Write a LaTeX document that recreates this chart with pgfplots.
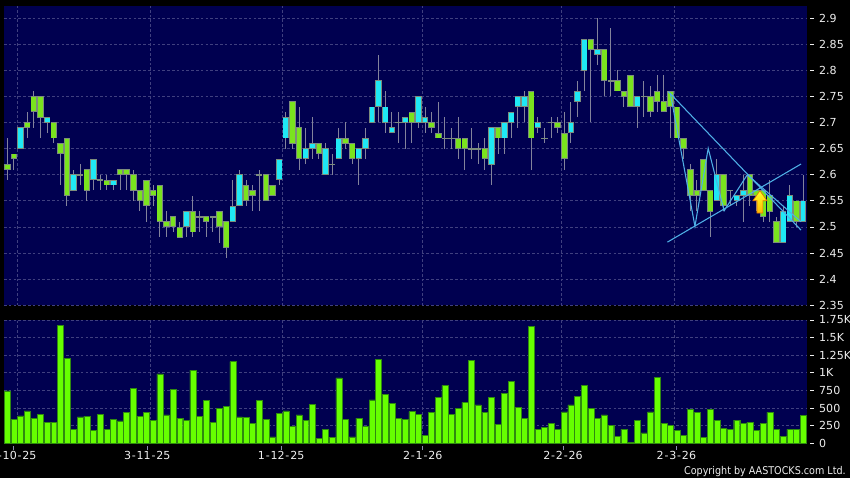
\documentclass[border=0pt]{standalone}
\usepackage{fontspec}
\setmainfont{DejaVu Sans}
\newfontfamily\condfont{DejaVu Sans Condensed}
\usepackage{pgfplots}
\usepackage{pgfplotstable}
\pgfplotsset{compat=1.18}
% 1 px of the reference = 0.75pt here, so the page is 637.5pt x 358.5pt
\definecolor{navy}{HTML}{000050}
\definecolor{gridc}{HTML}{40407F}
\definecolor{wickc}{HTML}{83839B}
\definecolor{edgec}{HTML}{7C8C7C}
\definecolor{upc}{HTML}{1FE8F5}
\definecolor{downc}{HTML}{7AE31E}
\definecolor{volc}{HTML}{66FF00}
\definecolor{voledge}{HTML}{2F8A10}
\definecolor{linec}{HTML}{4FB0E6}
\definecolor{labelc}{HTML}{EEEEEE}
\newcommand{\hk}{\kern.6pt-\kern.6pt}

% i, body bottom, body top, low, high
\pgfplotstableread{
i bot top lo hi
0 2.61 2.62 2.59 2.67
1 2.63 2.64 2.61 2.64
3 2.69 2.70 2.67 2.72
4 2.72 2.75 2.69 2.76
5 2.71 2.75 2.67 2.75
7 2.67 2.70 2.66 2.70
8 2.64 2.66 2.58 2.66
9 2.56 2.67 2.54 2.67
12 2.57 2.61 2.55 2.61
15 2.58 2.59 2.57 2.60
17 2.60 2.61 2.57 2.61
18 2.60 2.61 2.57 2.61
19 2.57 2.60 2.55 2.61
20 2.55 2.57 2.53 2.57
21 2.54 2.59 2.51 2.59
22 2.56 2.57 2.54 2.58
23 2.51 2.58 2.48 2.58
24 2.50 2.51 2.48 2.53
25 2.50 2.52 2.49 2.52
26 2.48 2.50 2.48 2.51
28 2.49 2.53 2.48 2.56
30 2.51 2.52 2.48 2.52
32 2.50 2.53 2.47 2.53
33 2.46 2.51 2.44 2.51
36 2.55 2.58 2.54 2.59
37 2.56 2.57 2.53 2.58
39 2.55 2.60 2.55 2.60
40 2.56 2.58 2.56 2.58
43 2.66 2.74 2.65 2.74
44 2.63 2.69 2.61 2.73
47 2.64 2.66 2.63 2.66
51 2.66 2.67 2.65 2.70
52 2.63 2.66 2.62 2.66
61 2.70 2.72 2.66 2.72
64 2.69 2.70 2.68 2.72
65 2.67 2.68 2.67 2.74
68 2.65 2.67 2.63 2.71
69 2.65 2.67 2.61 2.67
72 2.63 2.65 2.61 2.67
74 2.67 2.69 2.64 2.69
79 2.67 2.76 2.61 2.76
83 2.69 2.70 2.68 2.71
84 2.63 2.68 2.61 2.72
88 2.84 2.86 2.70 2.86
90 2.78 2.84 2.75 2.84
92 2.76 2.78 2.76 2.80
93 2.75 2.76 2.73 2.76
94 2.73 2.79 2.73 2.79
97 2.72 2.75 2.71 2.77
98 2.74 2.76 2.72 2.79
99 2.72 2.74 2.72 2.79
100 2.73 2.76 2.67 2.76
101 2.67 2.73 2.67 2.73
102 2.65 2.67 2.63 2.67
103 2.56 2.61 2.53 2.62
104 2.56 2.57 2.53 2.59
105 2.57 2.63 2.57 2.63
106 2.53 2.57 2.48 2.57
108 2.54 2.60 2.53 2.60
112 2.56 2.60 2.54 2.60
113 2.56 2.57 2.53 2.57
114 2.52 2.57 2.51 2.57
115 2.53 2.56 2.51 2.59
116 2.47 2.51 2.47 2.52
119 2.51 2.55 2.50 2.55
}\downbars

\pgfplotstableread{
i bot top lo hi
2 2.65 2.69 2.65 2.69
6 2.70 2.71 2.68 2.71
10 2.57 2.60 2.57 2.61
13 2.59 2.63 2.57 2.63
16 2.58 2.59 2.57 2.59
27 2.50 2.53 2.48 2.53
34 2.51 2.54 2.51 2.59
35 2.54 2.60 2.54 2.61
41 2.59 2.63 2.58 2.63
42 2.67 2.71 2.65 2.72
45 2.63 2.65 2.62 2.69
46 2.65 2.66 2.63 2.71
48 2.60 2.65 2.60 2.66
50 2.63 2.67 2.63 2.69
53 2.63 2.65 2.58 2.65
54 2.65 2.67 2.63 2.69
55 2.70 2.73 2.70 2.73
56 2.73 2.78 2.70 2.83
57 2.70 2.73 2.68 2.76
58 2.68 2.69 2.68 2.72
60 2.70 2.71 2.65 2.71
62 2.70 2.75 2.69 2.75
63 2.70 2.71 2.68 2.73
73 2.62 2.69 2.58 2.69
75 2.67 2.70 2.64 2.70
76 2.70 2.72 2.67 2.72
77 2.73 2.75 2.69 2.75
78 2.73 2.75 2.70 2.76
80 2.69 2.70 2.68 2.71
85 2.68 2.70 2.66 2.74
86 2.74 2.76 2.71 2.78
87 2.80 2.86 2.76 2.86
89 2.83 2.84 2.81 2.90
95 2.73 2.75 2.69 2.75
107 2.55 2.60 2.55 2.63
110 2.55 2.56 2.54 2.56
111 2.56 2.57 2.51 2.60
117 2.47 2.53 2.47 2.54
118 2.51 2.56 2.51 2.58
120 2.51 2.55 2.51 2.60
}\upbars

% open = close days
\pgfplotstableread{
i bot top lo hi
11 2.60 2.60 2.58 2.62
14 2.59 2.59 2.57 2.60
29 2.52 2.52 2.49 2.53
31 2.52 2.52 2.49 2.52
38 2.60 2.60 2.53 2.61
49 2.62 2.62 2.60 2.64
59 2.70 2.70 2.66 2.72
66 2.67 2.67 2.65 2.71
67 2.67 2.67 2.65 2.69
70 2.65 2.65 2.63 2.69
71 2.65 2.65 2.62 2.66
81 2.67 2.67 2.66 2.69
82 2.70 2.70 2.67 2.71
91 2.78 2.78 2.75 2.88
96 2.75 2.75 2.71 2.78
109 2.57 2.57 2.54 2.57
}\flatbars

\pgfplotstableread{
i vol
0 743
1 345
2 388
3 459
4 350
5 411
6 293
7 293
8 1674
9 1206
10 203
11 374
12 383
13 189
14 411
15 203
16 340
17 317
18 435
19 785
20 383
21 440
22 331
23 984
24 402
25 766
26 355
27 322
28 1040
29 383
30 610
31 293
32 501
33 525
34 1159
35 374
36 369
37 284
38 610
39 336
40 90
41 426
42 459
43 241
44 402
45 331
46 553
47 66
48 194
49 85
50 927
51 336
52 90
53 359
54 236
55 615
56 1192
57 695
58 572
59 355
60 340
61 449
62 411
63 113
64 440
65 657
66 823
67 407
68 492
69 582
70 1182
71 544
72 440
73 648
74 270
75 705
76 884
77 515
78 355
79 1655
80 194
81 222
82 284
83 203
84 445
85 544
86 667
87 818
88 497
89 355
90 402
91 251
92 95
93 199
94 10
95 331
96 147
97 445
98 937
99 288
100 255
101 189
102 113
103 482
104 435
105 80
106 487
107 331
108 213
109 203
110 331
111 279
112 298
113 189
114 288
115 440
116 203
117 104
118 199
119 199
120 397
}\volumes

\pgfplotsset{
  pane/.style={
    scale only axis, width=602.25pt,
    anchor=south west,
    xmin=-0.5, xmax=120.6,
    axis background/.style={fill=navy},
    axis line style={draw=none},
    clip=true,
    grid=major,
    major grid style={gridc, line width=0.55pt, dash pattern=on 2pt off 1.6pt},
    xtick={1.54,21.57,41.5,62.65,83.6,100.6},
    xticklabels={},
    x tick style={draw=none},
    xtick pos=bottom,
    ytick pos=right,
    yticklabel pos=right,
    y tick style={draw=labelc, line width=0.6pt, xshift=2.5pt},
    tick align=outside,
    major tick length=2.6pt,
    tick label style={font=\fontsize{8.3}{9}\selectfont, text=labelc},
    yticklabel style={xshift=3pt, anchor=west},
    /pgf/number format/assume math mode=true,
  },
  bodies/.style 2 args={draw=none, mark=none, forget plot,
    error bars/.cd, y dir=both, y explicit, error mark=none,
    error bar style={line width=#1, draw=#2}},
}
\newcommand{\wicks}[1]{%
  \addplot[bodies={0.75pt}{wickc}]
    table[x=i, y expr=(\thisrow{hi}+\thisrow{lo})/2,
          y error expr=(\thisrow{hi}-\thisrow{lo})/2] {#1};}
\newcommand{\bodyedge}[2]{%
  \addplot[bodies={4.8pt}{edgec}]
    table[x=i, y expr=(\thisrow{top}+\thisrow{bot})/2,
          y error expr=(\thisrow{top}-\thisrow{bot})/2+#2] {#1};}
\newcommand{\bodyfill}[2]{%
  \addplot[bodies={3.6pt}{#2}]
    table[x=i, y expr=(\thisrow{top}+\thisrow{bot})/2,
          y error expr=(\thisrow{top}-\thisrow{bot})/2-0.0012] {#1};}

\begin{document}
\begin{tikzpicture}
\path[use as bounding box, fill=black] (0,0) rectangle (637.5pt,358.5pt);
\clip (0,0) rectangle (637.5pt,358.5pt);

% price pane
\begin{axis}[pane, at={(3pt,129.5pt)}, height=224.5pt,
  ymin=2.35, ymax=2.923,
  ytick={2.35,2.4,2.45,2.5,2.55,2.6,2.65,2.7,2.75,2.8,2.85,2.9},
  yticklabel style={/pgf/number format/fixed, /pgf/number format/precision=2},
]
\wicks{\downbars}
\wicks{\upbars}
\wicks{\flatbars}
\bodyedge{\flatbars}{0.001}
\bodyedge{\downbars}{0.0005}
\bodyedge{\upbars}{0.0005}
\bodyfill{\downbars}{downc}
\bodyfill{\upbars}{upc}

% trend lines
\addplot[linec, line width=0.8pt, forget plot] coordinates {(99.7,2.759) (119.7,2.494)};
\addplot[linec, line width=0.8pt, forget plot] coordinates {(99.55,2.471) (119.7,2.6205)};
\addplot[linec, line width=0.8pt, forget plot] coordinates
  {(100,2.7555) (103.7,2.5013) (105.7,2.6505) (108.1,2.531) (111.6,2.60) (119.7,2.51)};

% signal arrow
\addplot[draw=orange!90!black, line width=0.5pt, top color=yellow!85!white, bottom color=orange!55!yellow, forget plot]
  coordinates {(113.5,2.5694) (114.56,2.5503) (113.95,2.5503) (113.95,2.5267)
               (113.05,2.5267) (113.05,2.5503) (112.44,2.5503)} -- cycle;
\end{axis}

% volume pane
\begin{axis}[pane, at={(3pt,26pt)}, height=92.5pt,
  ymin=0, ymax=1750,
  ytick={0,250,500,750,1000,1250,1500,1750},
  yticklabels={0,250,500,750,1K,1.25K,1.5K,1.75K},
  extra x ticks={0.9,21.1,41.3,62.65,83.8,100.9},
  extra x tick labels={2\hk10\hk25,3\hk11\hk25,1\hk12\hk25,2\hk1\hk26,2\hk2\hk26,2\hk3\hk26},
  extra x tick style={grid=none, x tick style={draw=gridc!60!white, line width=0.6pt, yshift=-2.3pt}},
]
\addplot[ybar, bar shift=0pt, bar width=4.5pt, fill=volc, draw=voledge, line width=0.3pt, forget plot]
  table[x=i, y=vol] {\volumes};
\end{axis}

\node[anchor=east, text=labelc, font=\condfont\fontsize{8}{9}\selectfont, inner sep=0pt]
  at (634.5pt,5.2pt) {Copyright by AASTOCKS.com Ltd.};
\end{tikzpicture}
\end{document}
